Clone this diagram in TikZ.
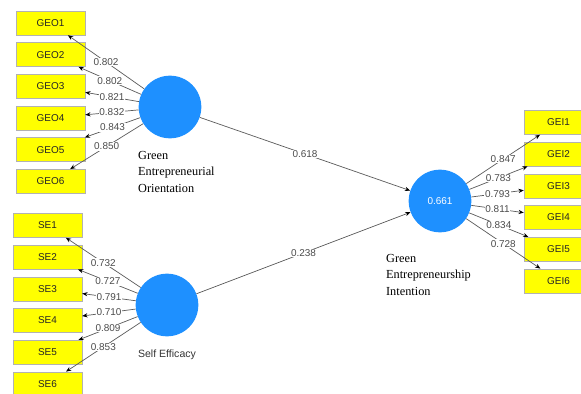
\documentclass[tikz,border=0pt]{standalone}
\usepackage{fontspec}
\setmainfont{Liberation Serif}
\setsansfont{Liberation Sans}
\usepackage{tikz}
\usetikzlibrary{arrows.meta, positioning}
\definecolor{lvblue}{RGB}{30,144,255}
\definecolor{indyellow}{RGB}{255,255,0}
\definecolor{linegray}{RGB}{90,90,90}

\begin{document}
\begin{tikzpicture}[x=0.03cm, y=-0.03cm, on grid, node distance=0.95cm,
	ind/.style={draw=black!30, fill=indyellow, minimum width=2.07cm, minimum height=0.72cm, inner sep=0pt, font=\sffamily\fontsize{8.5}{9}\selectfont, text=black!85},
	lv/.style={circle, fill=lvblue, minimum size=1.88cm, inner sep=0pt, text=white, font=\sffamily\fontsize{8.5}{9}\selectfont},
	ld/.style={fill=white, inner sep=0.6pt, text=black!70, font=\sffamily\fontsize{8.5}{9}\selectfont},
	arr/.style={draw=linegray, line width=0.6pt, -{Stealth[length=4.5pt, width=3.6pt, black]}}]
	\clip (0,0) rectangle (581,394);
	
	% indicators
	\node[ind] (GEO1) at (50.5,23) {GEO1};
	\node[ind, below of=GEO1] (GEO2) {GEO2};
	\node[ind, below of=GEO2] (GEO3) {GEO3};
	\node[ind, below of=GEO3] (GEO4) {GEO4};
	\node[ind, below of=GEO4] (GEO5) {GEO5};
	\node[ind, below of=GEO5] (GEO6) {GEO6};
	
	\node[ind] (SE1) at (47.5,225.5) {SE1};
	\node[ind, below of=SE1] (SE2) {SE2};
	\node[ind, below of=SE2] (SE3) {SE3};
	\node[ind, below of=SE3] (SE4) {SE4};
	\node[ind, below of=SE4] (SE5) {SE5};
	\node[ind, below of=SE5] (SE6) {SE6};
	
	\node[ind] (GEI1) at (558.5,122.5) {GEI1};
	\node[ind, below of=GEI1] (GEI2) {GEI2};
	\node[ind, below of=GEI2] (GEI3) {GEI3};
	\node[ind, below of=GEI3] (GEI4) {GEI4};
	\node[ind, below of=GEI4] (GEI5) {GEI5};
	\node[ind, below of=GEI5] (GEI6) {GEI6};
	
	% constructs
	\node[lv] (GEO) at (170,107) {};
	\node[lv] (SE) at (167,305) {};
	\node[lv] (GEI) at (440,201) {0.661};
	
	\node[align=left, anchor=north west, font=\fontsize{10.5}{14}\selectfont] (GEOtxt) at (134,147) {Green\\Entrepreneurial\\Orientation};
	\node[font=\sffamily\fontsize{9}{10}\selectfont, text=black!80] (SEtxt) at (167,355) {Self Efficacy};
	\node[align=left, anchor=north west, font=\fontsize{10.5}{14}\selectfont] (GEItxt) at (382,250) {Green\\Entrepreneurship\\Intention};
	
	\path[arr]
	(GEO) edge node[ld] {0.802} (GEO1)
	(GEO) edge node[ld] {0.802} (GEO2)
	(GEO) edge node[ld] {0.821} (GEO3)
	(GEO) edge node[ld] {0.832} (GEO4)
	(GEO) edge node[ld] {0.843} (GEO5)
	(GEO) edge node[ld] {0.850} (GEO6)
	
	(SE) edge node[ld] {0.732} (SE1)
	(SE) edge node[ld] {0.727} (SE2)
	(SE) edge node[ld] {0.791} (SE3)
	(SE) edge node[ld] {0.710} (SE4)
	(SE) edge node[ld] {0.809} (SE5)
	(SE) edge node[ld] {0.853} (SE6)
	
	(GEI) edge node[ld] {0.847} (GEI1)
	(GEI) edge node[ld] {0.783} (GEI2)
	(GEI) edge node[ld] {0.793} (GEI3)
	(GEI) edge node[ld] {0.811} (GEI4)
	(GEI) edge node[ld] {0.834} (GEI5)
	(GEI) edge node[ld] {0.728} (GEI6)
	
	(GEO) edge node[ld] {0.618} (GEI)
	(SE) edge node[ld] {0.238} (GEI)
	;
\end{tikzpicture}
\end{document}
